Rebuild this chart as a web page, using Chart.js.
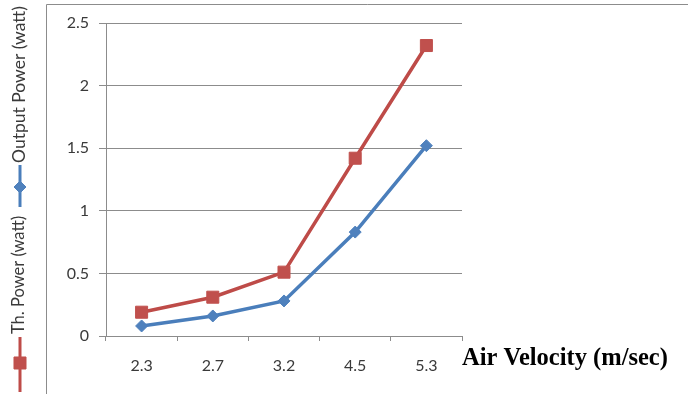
<!DOCTYPE html>
<html>
<head>
<meta charset="utf-8">
<script src="https://cdn.jsdelivr.net/npm/chart.js@4.4.1/dist/chart.umd.min.js"></script>
<style>
  html, body { margin: 0; padding: 0; background: #ffffff; }
  #wrap { width: 688px; height: 394px; position: relative; }
</style>
</head>
<body>
<div id="wrap"><canvas id="chart" width="688" height="394"></canvas></div>
<script>
// Air velocity categories (m/sec)
const categories = ['2.3', '2.7', '3.2', '4.5', '5.3'];
// Measured output power (watt)
const outputPower = [0.08, 0.16, 0.28, 0.83, 1.52];
// Theoretical power (watt)
const thPower = [0.19, 0.31, 0.51, 1.42, 2.32];
// Value axis ticks and their labels
const yTicks = [0, 0.5, 1, 1.5, 2, 2.5];
const yTickLabels = ['0', '0.5', '1', '1.5', '2', '2.5'];

const seriesNames = ['Output Power (watt)', 'Th. Power (watt)'];
const BLUE_LINE = '#4A7EBB', BLUE_MARK = '#4F81BD';
const RED_LINE = '#BE4B48', RED_MARK = '#C0504D';
const AXIS_GRAY = '#8c8c8c';
const TEXT = '#3a3a3a';
const TICK_FONT = { family: 'Lato', size: 16 };

// Frame, vertical legend and the horizontal axis caption
const decorations = {
  id: 'decorations',
  afterDraw(chart) {
    const ctx = chart.ctx;
    const area = chart.chartArea;
    ctx.save();

    // outer frame (top and left edges)
    ctx.strokeStyle = AXIS_GRAY;
    ctx.lineWidth = 1;
    ctx.beginPath();
    ctx.moveTo(46.5, 394);
    ctx.lineTo(46.5, 4.5);
    ctx.lineTo(688, 4.5);
    ctx.stroke();

    // vertical legend
    const entries = [
      { name: seriesNames[0], line: BLUE_LINE, mark: BLUE_MARK, style: 'rectRot', radius: 6,
        lineFrom: 165, lineTo: 207, markY: 187, textStart: 163, size: 17.5 },
      { name: seriesNames[1], line: RED_LINE, mark: RED_MARK, style: 'rect', radius: 8.5,
        lineFrom: 337, lineTo: 392, markY: 363, textStart: 334, size: 16.5 }
    ];
    entries.forEach(e => {
      ctx.strokeStyle = e.line;
      ctx.lineWidth = 3;
      ctx.beginPath();
      ctx.moveTo(20, e.lineFrom);
      ctx.lineTo(20, e.lineTo);
      ctx.stroke();
      ctx.fillStyle = e.mark;
      ctx.strokeStyle = e.mark;
      ctx.lineWidth = 1;
      Chart.helpers.drawPoint(ctx, { pointStyle: e.style, radius: e.radius, borderWidth: 1 }, 20, e.markY);

      ctx.save();
      ctx.translate(19, e.textStart);
      ctx.rotate(-Math.PI / 2);
      ctx.fillStyle = TEXT;
      ctx.font = e.size + 'px Lato';
      ctx.textAlign = 'left';
      ctx.textBaseline = 'middle';
      ctx.fillText(e.name, 0, 0);
      ctx.restore();
    });

    // axis caption to the right of the plot
    ctx.fillStyle = '#000000';
    ctx.font = 'bold 24.5px "Liberation Serif"';
    ctx.textAlign = 'left';
    ctx.textBaseline = 'middle';
    ctx.fillText('Air Velocity (m/sec)', area.right, 359);

    ctx.restore();
  }
};

new Chart(document.getElementById('chart'), {
  type: 'line',
  data: {
    labels: categories,
    datasets: [
      {
        label: seriesNames[0],
        data: outputPower,
        borderColor: BLUE_LINE,
        backgroundColor: BLUE_MARK,
        borderWidth: 3.5,
        pointStyle: 'rectRot',
        pointRadius: 6,
        pointHoverRadius: 6,
        pointBorderColor: BLUE_MARK,
        pointBackgroundColor: BLUE_MARK,
        pointBorderWidth: 1,
        tension: 0
      },
      {
        label: seriesNames[1],
        data: thPower,
        borderColor: RED_LINE,
        backgroundColor: RED_MARK,
        borderWidth: 3.5,
        pointStyle: 'rect',
        pointRadius: 8.5,
        pointHoverRadius: 8.5,
        pointBorderColor: RED_MARK,
        pointBackgroundColor: RED_MARK,
        pointBorderWidth: 1,
        tension: 0
      }
    ]
  },
  options: {
    responsive: false,
    devicePixelRatio: 1,
    animation: false,
    layout: { padding: { left: 0, top: 23, right: 226, bottom: 0 } },
    plugins: {
      legend: { display: false },
      tooltip: { enabled: false }
    },
    scales: {
      x: {
        type: 'category',
        offset: true,
        grid: {
          display: true,
          offset: true,
          drawOnChartArea: false,
          drawTicks: true,
          tickLength: 5,
          color: AXIS_GRAY
        },
        border: { color: AXIS_GRAY, width: 1 },
        ticks: { font: TICK_FONT, color: TEXT, padding: 15, maxRotation: 0 },
        afterFit(scale) { scale.height = 58; }
      },
      y: {
        min: yTicks[0],
        max: yTicks[yTicks.length - 1],
        afterBuildTicks(scale) { scale.ticks = yTicks.map(v => ({ value: v })); },
        grid: { color: AXIS_GRAY, tickLength: 7, drawTicks: true },
        border: { color: AXIS_GRAY, width: 1 },
        ticks: {
          font: TICK_FONT,
          color: TEXT,
          padding: 10,
          callback: (value) => yTickLabels[yTicks.indexOf(value)]
        },
        afterFit(scale) { scale.width = 106; }
      }
    }
  },
  plugins: [decorations]
});
</script>
</body>
</html>
